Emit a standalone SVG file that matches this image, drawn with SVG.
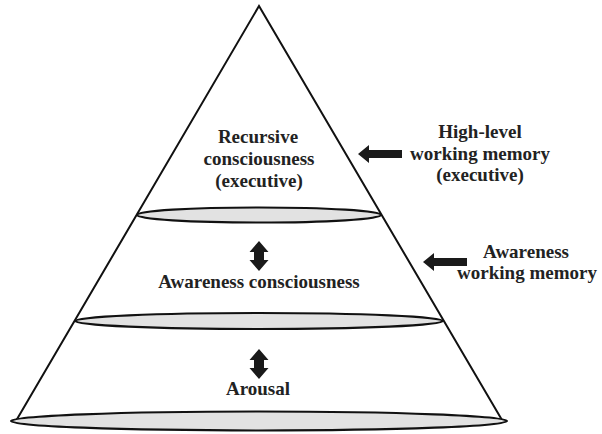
<svg xmlns="http://www.w3.org/2000/svg" xmlns:xlink="http://www.w3.org/1999/xlink" width="602" height="434" viewBox="0 0 602 434">
  <style>
    .edge { fill: none; stroke: #111; stroke-width: 2; stroke-linecap: round; }
    .disc { fill: #e2e2e2; stroke: #111; stroke-width: 2.2; }
    .lbl { font-family: "Liberation Serif", "Times New Roman", serif; font-weight: bold; font-size: 19px; fill: #222; text-anchor: middle; }
    .arrow { fill: #1a1a1a; stroke: none; }
  </style>
  <defs>
    <path id="dbl" d="M0,0 L9.5,11 L5,11 L5,19 L9.5,19 L0,30 L-9.5,19 L-5,19 L-5,11 L-9.5,11 Z"/>
    <path id="left" d="M0,0 L11,-9 L11,-4 L44,-4 L44,4 L11,4 L11,9 Z"/>
  </defs>
  <rect x="0" y="0" width="602" height="434" fill="#ffffff"/>

  <g id="pyramid">
    <path class="edge" d="M16.5,420 L259,6 L502,420"/>
    <ellipse class="disc" cx="259" cy="215" rx="122" ry="7.5"/>
    <ellipse class="disc" cx="259" cy="321" rx="184" ry="8"/>
    <ellipse class="disc" cx="259" cy="421" rx="248" ry="9.5"/>
  </g>

  <g id="recursive">
    <text class="lbl" x="258" y="143">Recursive</text>
    <text class="lbl" x="259" y="165">consciousness</text>
    <text class="lbl" x="259" y="187">(executive)</text>
  </g>

  <g id="awareness">
    <text class="lbl" x="259" y="288">Awareness consciousness</text>
  </g>

  <g id="arousal">
    <text class="lbl" x="258" y="395">Arousal</text>
  </g>

  <g id="highlevel-wm">
    <text class="lbl" x="480" y="138">High-level</text>
    <text class="lbl" x="480" y="160">working memory</text>
    <text class="lbl" x="480" y="181">(executive)</text>
  </g>

  <g id="awareness-wm">
    <text class="lbl" x="526" y="258">Awareness</text>
    <text class="lbl" x="527" y="279">working memory</text>
  </g>

  <g id="connectors">
    <use xlink:href="#dbl" href="#dbl" class="arrow" x="259" y="241"/>
    <use xlink:href="#dbl" href="#dbl" class="arrow" x="259" y="349"/>
    <use xlink:href="#left" href="#left" class="arrow" x="358" y="154"/>
    <use xlink:href="#left" href="#left" class="arrow" x="423" y="262"/>
  </g>
</svg>
